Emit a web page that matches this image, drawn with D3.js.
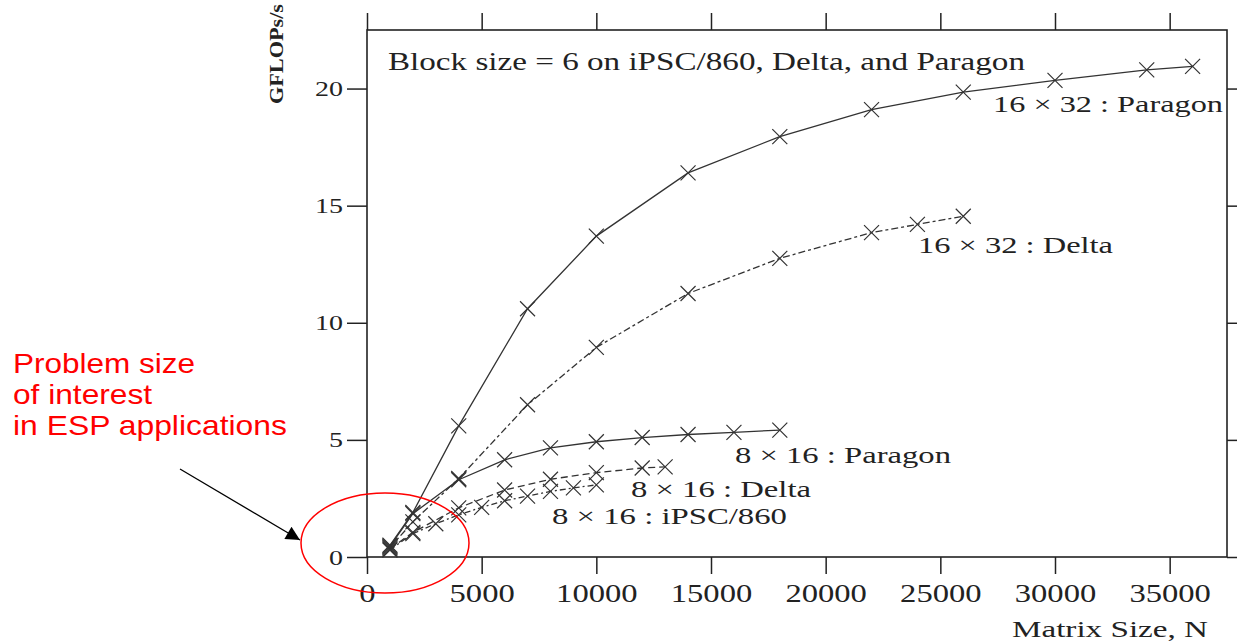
<!DOCTYPE html>
<html>
<head>
<meta charset="utf-8">
<script src="https://cdn.jsdelivr.net/npm/d3@7"></script>
<style>
  body { margin: 0; background: #fff; }
  svg { display: block; }
</style>
</head>
<body>
<div id="chart"></div>
<script>

// chart data
const sizesP32 = [1000, 2000, 4000, 7000, 10000, 14000, 18000, 22000, 26000, 30000, 34000, 36000];
const gflopsP32 = [0.5, 1.9, 5.6, 10.6, 13.7, 16.4, 17.95, 19.1, 19.85, 20.35, 20.8, 20.95];

const sizesD32 = [1000, 2000, 4000, 7000, 10000, 14000, 18000, 22000, 24000, 26000];
const gflopsD32 = [0.4, 1.5, 3.35, 6.5, 8.95, 11.25, 12.75, 13.85, 14.2, 14.55];

const sizesP16 = [1000, 2000, 4000, 6000, 8000, 10000, 12000, 14000, 16000, 18000];
const gflopsP16 = [0.45, 1.85, 3.3, 4.15, 4.66, 4.92, 5.1, 5.23, 5.32, 5.42];

const sizesD16 = [1000, 2000, 4000, 6000, 8000, 10000, 12000, 13000];
const gflopsD16 = [0.35, 1.05, 2.1, 2.86, 3.32, 3.6, 3.8, 3.85];

const sizesI16 = [1000, 2000, 3000, 4000, 5000, 6000, 7000, 8000, 9000, 10000];
const gflopsI16 = [0.3, 1.0, 1.42, 1.8, 2.12, 2.4, 2.6, 2.8, 2.95, 3.08];

const xTicks = [0, 5000, 10000, 15000, 20000, 25000, 30000, 35000];
const yTicks = [0, 5, 10, 15, 20];

const seriesNames = ["16 \u00d7 32 : Paragon", "16 \u00d7 32 : Delta", "8 \u00d7 16 : Paragon",
                     "8 \u00d7 16 : Delta", "8 \u00d7 16 : iPSC/860"];

const width = 1237;
const height = 641;
const margin = {left: 367, right: 10, top: 30, bottom: 84};
const serif = "'Liberation Serif', 'Times New Roman', serif";
const ink = "#222";

const svg = d3.select("#chart")
  .append("svg")
  .attr("width", width)
  .attr("height", height);

// scales
const xScale = d3.scaleLinear()
  .domain([0, 37500])
  .range([margin.left, width - margin.right]);

const yScale = d3.scaleLinear()
  .domain([0, 22.5])
  .range([height - margin.bottom, margin.top]);

const x0 = xScale.range()[0], x1 = xScale.range()[1];
const y0 = yScale.range()[0], y1 = yScale.range()[1];

// axes, ticks point outwards on all four sides
const bottomAxis = svg.append("g")
  .attr("transform", `translate(0,${y0})`)
  .call(d3.axisBottom(xScale).tickValues(xTicks).tickFormat(d3.format("d"))
    .tickSize(17).tickSizeOuter(0).tickPadding(10));
bottomAxis.selectAll("text")
  .attr("font-family", serif)
  .attr("font-size", 25)
  .attr("fill", ink)
  .attr("dy", "0.71em")
  .attr("textLength", d => String(d).length * 16.3)
  .attr("lengthAdjust", "spacingAndGlyphs");

const leftAxis = svg.append("g")
  .attr("transform", `translate(${x0},0)`)
  .call(d3.axisLeft(yScale).tickValues(yTicks).tickSize(20).tickSizeOuter(0).tickPadding(4));
leftAxis.selectAll("text")
  .attr("font-family", serif)
  .attr("font-size", 22)
  .attr("fill", ink)
  .attr("textLength", d => String(d).length * 14)
  .attr("lengthAdjust", "spacingAndGlyphs");

svg.append("g")
  .attr("transform", `translate(0,${y1})`)
  .call(d3.axisTop(xScale).tickValues(xTicks).tickSize(17).tickSizeOuter(0).tickFormat(""));

svg.append("g")
  .attr("transform", `translate(${x1},0)`)
  .call(d3.axisRight(yScale).tickValues(yTicks).tickSize(17).tickSizeOuter(0).tickFormat(""));

svg.selectAll(".domain").remove();
svg.selectAll(".tick line").attr("stroke", ink).attr("stroke-width", 1.5);

// frame
svg.append("rect")
  .attr("x", x0).attr("y", y1)
  .attr("width", x1 - x0).attr("height", y0 - y1)
  .attr("fill", "none")
  .attr("stroke", ink)
  .attr("stroke-width", 1.6);

// series
const series = [
  {sizes: sizesP32, gflops: gflopsP32, dash: null},
  {sizes: sizesD32, gflops: gflopsD32, dash: "7,3,3,3"},
  {sizes: sizesP16, gflops: gflopsP16, dash: null},
  {sizes: sizesD16, gflops: gflopsD16, dash: "7,4"},
  {sizes: sizesI16, gflops: gflopsI16, dash: "6,3,2,3"}
];

const line = d3.line()
  .x(d => xScale(d[0]))
  .y(d => yScale(d[1]));

const m = 7.5; // half size of the x markers
series.forEach(s => {
  const pts = d3.zip(s.sizes, s.gflops);
  svg.append("path")
    .datum(pts)
    .attr("d", line)
    .attr("fill", "none")
    .attr("stroke", "#333")
    .attr("stroke-width", 1.3)
    .attr("stroke-dasharray", s.dash);

  svg.append("g").selectAll("path")
    .data(pts)
    .enter()
    .append("path")
      .attr("d", d => {
        const cx = xScale(d[0]), cy = yScale(d[1]);
        return `M${cx - m},${cy - m}L${cx + m},${cy + m}M${cx - m},${cy + m}L${cx + m},${cy - m}`;
      })
      .attr("stroke", "#333")
      .attr("stroke-width", 1.2);
});

// text helper, the source picture is stretched sideways so widths are fixed
function label(x, y, str, size, len, opts = {}) {
  return svg.append("text")
    .attr("x", x).attr("y", y)
    .attr("font-family", opts.family || serif)
    .attr("font-size", size)
    .attr("font-weight", opts.weight || "normal")
    .attr("fill", opts.fill || ink)
    .attr("textLength", len)
    .attr("lengthAdjust", "spacingAndGlyphs")
    .text(str);
}

label(388, 70, "Block size = 6 on iPSC/860, Delta, and Paragon", 25, 637);
label(993, 112, seriesNames[0], 23, 230);
label(918, 253, seriesNames[1], 23, 195);
label(735, 463, seriesNames[2], 23, 216);
label(631, 497, seriesNames[3], 23, 180);
label(552, 524, seriesNames[4], 23, 235);

label(1012, 637, "Matrix Size, N", 24, 196);

svg.append("text")
  .attr("transform", "translate(283,104) rotate(-90)")
  .attr("font-family", serif)
  .attr("font-size", 19)
  .attr("font-weight", "bold")
  .attr("fill", ink)
  .attr("textLength", 100)
  .attr("lengthAdjust", "spacingAndGlyphs")
  .text("GFLOPs/s");

// red callout
const sans = "'Liberation Sans', Arial, sans-serif";
label(13, 373, "Problem size", 28, 182, {family: sans, fill: "#f00"});
label(13, 404, "of interest", 28, 139, {family: sans, fill: "#f00"});
label(13, 435, "in ESP applications", 28, 274, {family: sans, fill: "#f00"});

svg.append("ellipse")
  .attr("cx", 385).attr("cy", 543)
  .attr("rx", 84).attr("ry", 50)
  .attr("fill", "none")
  .attr("stroke", "#f00")
  .attr("stroke-width", 1.5);

svg.append("defs").append("marker")
  .attr("id", "head")
  .attr("viewBox", "0 0 10 10")
  .attr("refX", 10).attr("refY", 5)
  .attr("markerWidth", 22).attr("markerHeight", 14)
  .attr("markerUnits", "userSpaceOnUse")
  .attr("orient", "auto")
  .append("path")
    .attr("d", "M0,0L10,5L0,10Z")
    .attr("fill", "#000");

svg.append("line")
  .attr("x1", 180).attr("y1", 469)
  .attr("x2", 300).attr("y2", 540)
  .attr("stroke", "#000")
  .attr("stroke-width", 1.3)
  .attr("marker-end", "url(#head)");

</script>
</body>
</html>
